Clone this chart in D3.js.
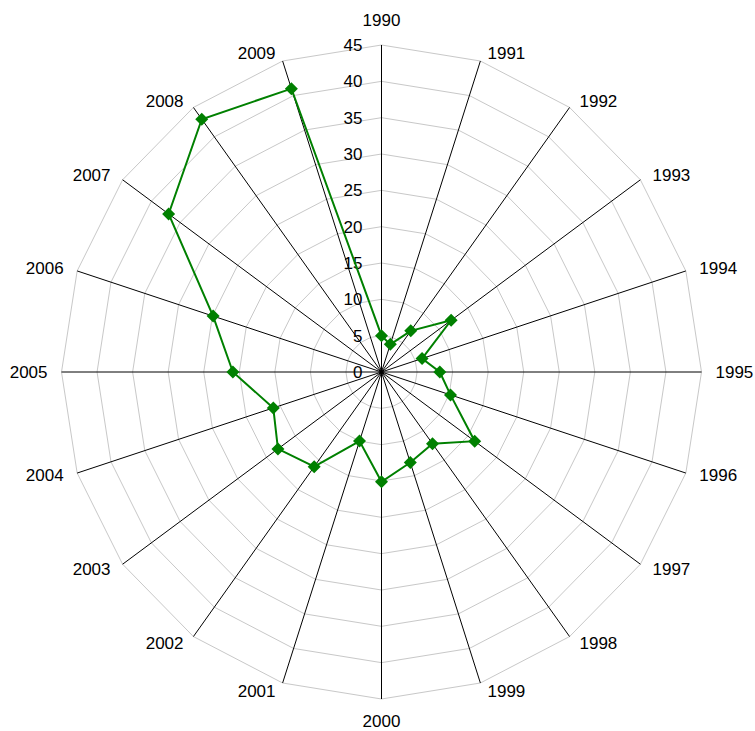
<!DOCTYPE html>
<html>
<head>
<meta charset="utf-8">
<script src="https://cdn.jsdelivr.net/npm/d3@7"></script>
<style>
  html, body { margin: 0; padding: 0; background: #ffffff; }
  svg { display: block; }
  text { font-family: "Liberation Sans", Arial, sans-serif; fill: #000; }
</style>
</head>
<body>
<svg id="chart" width="755" height="731"></svg>
<script>
// Years around the radar, clockwise from the top
const years = ["1990","1991","1992","1993","1994","1995","1996","1997","1998","1999",
               "2000","2001","2002","2003","2004","2005","2006","2007","2008","2009"];
// One value per year
const values = [5, 4, 7, 12.1, 6, 8.2, 10.2, 16.2, 12.2, 13.1,
                15.1, 10, 16.1, 18, 16, 20.9, 24.9, 37, 43, 41];
// Radial ticks
const ticks = [0, 5, 10, 15, 20, 25, 30, 35, 40, 45];

const width = 755, height = 731;
const cx = 381.5, cy = 372;
const maxVal = 45;

const svg = d3.select("#chart");

// Horizontal and vertical radial extents (the plot is slightly taller than wide)
const rx = d3.scaleLinear().domain([0, maxVal]).range([0, 320]);
const ry = d3.scaleLinear().domain([0, maxVal]).range([0, 327]);
const angle = d3.scalePoint().domain(years).range([0, 2 * Math.PI * (years.length - 1) / years.length]);

const pos = (year, v) => {
  const a = angle(year);
  return [cx + rx(v) * Math.sin(a), cy - ry(v) * Math.cos(a)];
};

const g = svg.append("g");

// Grid polygons
ticks.filter(t => t > 0).forEach(t => {
  g.append("path")
    .attr("d", d3.line()(years.map(y => pos(y, t))) + "Z")
    .attr("fill", "none")
    .attr("stroke", "#c8c8c8")
    .attr("stroke-width", 1);
});

// Spokes
years.forEach(y => {
  const [x2, y2] = pos(y, maxVal);
  g.append("line")
    .attr("x1", cx).attr("y1", cy)
    .attr("x2", x2).attr("y2", y2)
    .attr("stroke", "#000")
    .attr("stroke-width", 1);
});

// Radial tick labels along the first spoke
g.selectAll("text.tick").data(ticks).enter().append("text")
  .attr("class", "tick")
  .attr("x", cx - 19)
  .attr("y", d => cy - ry(d))
  .attr("dy", "0.35em")
  .attr("text-anchor", "end")
  .attr("font-size", 17)
  .text(d => d);

// Year labels outside each spoke
years.forEach(y => {
  const a = angle(y);
  const s = Math.sin(a), c = Math.cos(a);
  const [ex, ey] = pos(y, maxVal);
  let anchor = "middle", x = ex, yy = ey;
  if (Math.abs(s) < 1e-6) {
    yy = ey - (c > 0 ? 25 : -22);
  } else {
    anchor = s > 0 ? "start" : "end";
    x = ex + Math.sign(s) * (4 + 10 * Math.abs(s));
    yy = ey - 8 * c;
  }
  g.append("text")
    .attr("x", x).attr("y", yy)
    .attr("dy", "0.35em")
    .attr("text-anchor", anchor)
    .attr("font-size", 17)
    .text(y);
});

// Data line
const pts = years.map((y, i) => pos(y, values[i]));
g.append("path")
  .attr("d", d3.line()(pts) + "Z")
  .attr("fill", "none")
  .attr("stroke", "#008000")
  .attr("stroke-width", 2);

// Diamond markers
g.selectAll("path.marker").data(years).enter().append("path")
  .attr("class", "marker")
  .attr("transform", (y, i) => { const p = pos(y, values[i]); return `translate(${p[0]},${p[1]})`; })
  .attr("d", "M0,-6.5L6.5,0L0,6.5L-6.5,0Z")
  .attr("fill", "#008000");
</script>
</body>
</html>
